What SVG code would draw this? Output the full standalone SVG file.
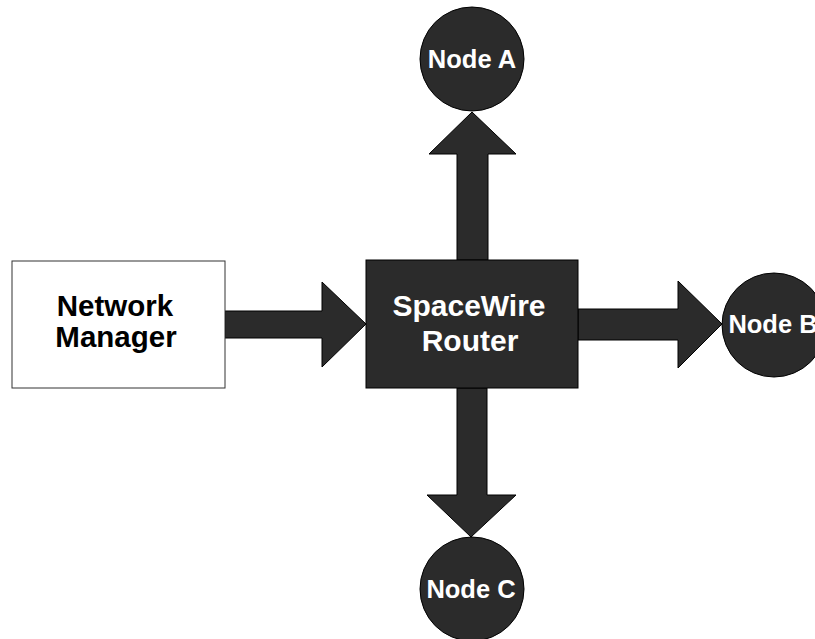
<svg xmlns="http://www.w3.org/2000/svg" width="815" height="639" viewBox="0 0 815 639">
<style>
.dark{fill:#2b2b2b;stroke:#000;stroke-width:1}
.box{fill:#fff;stroke:#333;stroke-width:1}
.arr{fill:#2b2b2b;stroke:#000;stroke-width:1;stroke-linejoin:miter}
.lt{font-family:"Liberation Sans",Arial,sans-serif;font-weight:bold;text-anchor:middle}
.w{fill:#fff}
.k{fill:#000}
</style>
<rect width="815" height="639" fill="#fff"/>
<g id="connectors">
<polygon class="arr" points="225,311 322,311 322,282 366,324 322,367 322,338 225,338"/>
<polygon class="arr" points="457,260 457,154 429,154 472,112 516,154 488,154 488,260"/>
<polygon class="arr" points="578,309 678,309 678,281 722,324 678,368 678,340 578,340"/>
<polygon class="arr" points="457,388 457,495 427,495 471,537 516,495 487,495 487,388"/>
</g>
<g id="network-manager">
<rect class="box" x="12" y="261" width="213" height="127"/>
<text class="lt k" x="115" y="316" font-size="29.5">Network</text>
<text class="lt k" x="116" y="347" font-size="29.5">Manager</text>
</g>
<g id="spacewire-router">
<rect class="dark" x="366" y="260" width="212" height="128"/>
<text class="lt w" x="469" y="316" font-size="30">SpaceWire</text>
<text class="lt w" x="470" y="351" font-size="30">Router</text>
</g>
<g id="node-a">
<circle class="dark" cx="472" cy="59" r="52"/>
<text class="lt w" x="472" y="68" font-size="25.5">Node A</text>
</g>
<g id="node-b">
<circle class="dark" cx="774" cy="325" r="52"/>
<text class="lt w" x="773" y="333" font-size="25.5">Node B</text>
</g>
<g id="node-c">
<circle class="dark" cx="472" cy="589" r="52"/>
<text class="lt w" x="471" y="598" font-size="25.5">Node C</text>
</g>
</svg>
